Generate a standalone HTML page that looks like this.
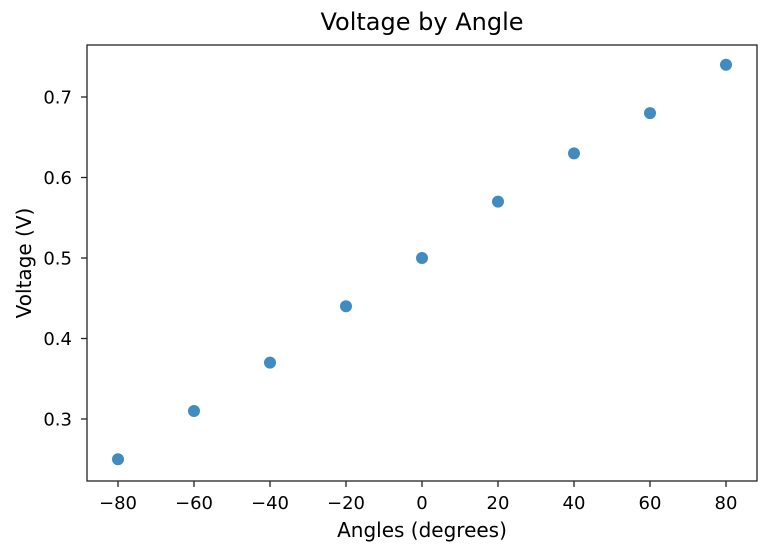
<!DOCTYPE html>
<html><head><meta charset="utf-8"><style>
body{margin:0;background:#fff;}
svg text{font-family:"DejaVu Sans","Liberation Sans",sans-serif;fill:#000;}
</style></head><body>
<svg id="chart" width="774" height="554" viewBox="0 0 774 554" xmlns="http://www.w3.org/2000/svg">
<rect x="0" y="0" width="774" height="554" fill="#fff"/>
<text x="422" y="30" font-size="24" text-anchor="middle">Voltage by Angle</text>
<g id="xticks"></g>
<g id="yticks"></g>
<g id="points"></g>
<rect x="87" y="45" width="670" height="436" fill="none" stroke="#222" stroke-width="1.3"/>
<text x="422" y="537" font-size="20" text-anchor="middle">Angles (degrees)</text>
<text x="31" y="263" font-size="20" text-anchor="middle" transform="rotate(-90 31 263)">Voltage (V)</text>
</svg>
<script>
const angles=[-80,-60,-40,-20,0,20,40,60,80];
const voltages=[0.25,0.31,0.37,0.44,0.50,0.57,0.63,0.68,0.74];
const xTickValues=[-80,-60,-40,-20,0,20,40,60,80];
const yTickValues=[0.3,0.4,0.5,0.6,0.7];
const NS="http://www.w3.org/2000/svg";
function xs(v){return 422+v*3.8;}
function ys(v){return 258-(v-0.5)*805;}
function mk(t,a,p){const e=document.createElementNS(NS,t);for(const k in a)e.setAttribute(k,a[k]);p.appendChild(e);return e;}
const xg=document.getElementById('xticks'),yg=document.getElementById('yticks'),pg=document.getElementById('points');
xTickValues.forEach(v=>{
 const l=mk('line',{x1:xs(v),x2:xs(v),y1:481,y2:487,stroke:'#222','stroke-width':1.3},xg);
 
 
 const t=mk('text',{x:xs(v),y:509,'font-size':18,'text-anchor':'middle'},xg);
 t.textContent=v<0?'\u2212'+Math.abs(v):String(v);
 
 
});
yTickValues.forEach(v=>{
 const l=mk('line',{x1:81,x2:87,y1:ys(v),y2:ys(v),stroke:'#222','stroke-width':1.3},yg);
 
 
 const t=mk('text',{x:72,y:ys(v)+6.5,'font-size':18,'text-anchor':'end'},yg);
 t.textContent=v.toFixed(1);
 
 
});
angles.forEach((a,i)=>{
 const c=mk('circle',{cx:xs(a),cy:ys(voltages[i]),r:6,fill:'#1f77b4','fill-opacity':0.85},pg);
 
 
});
</script>
</body></html>
